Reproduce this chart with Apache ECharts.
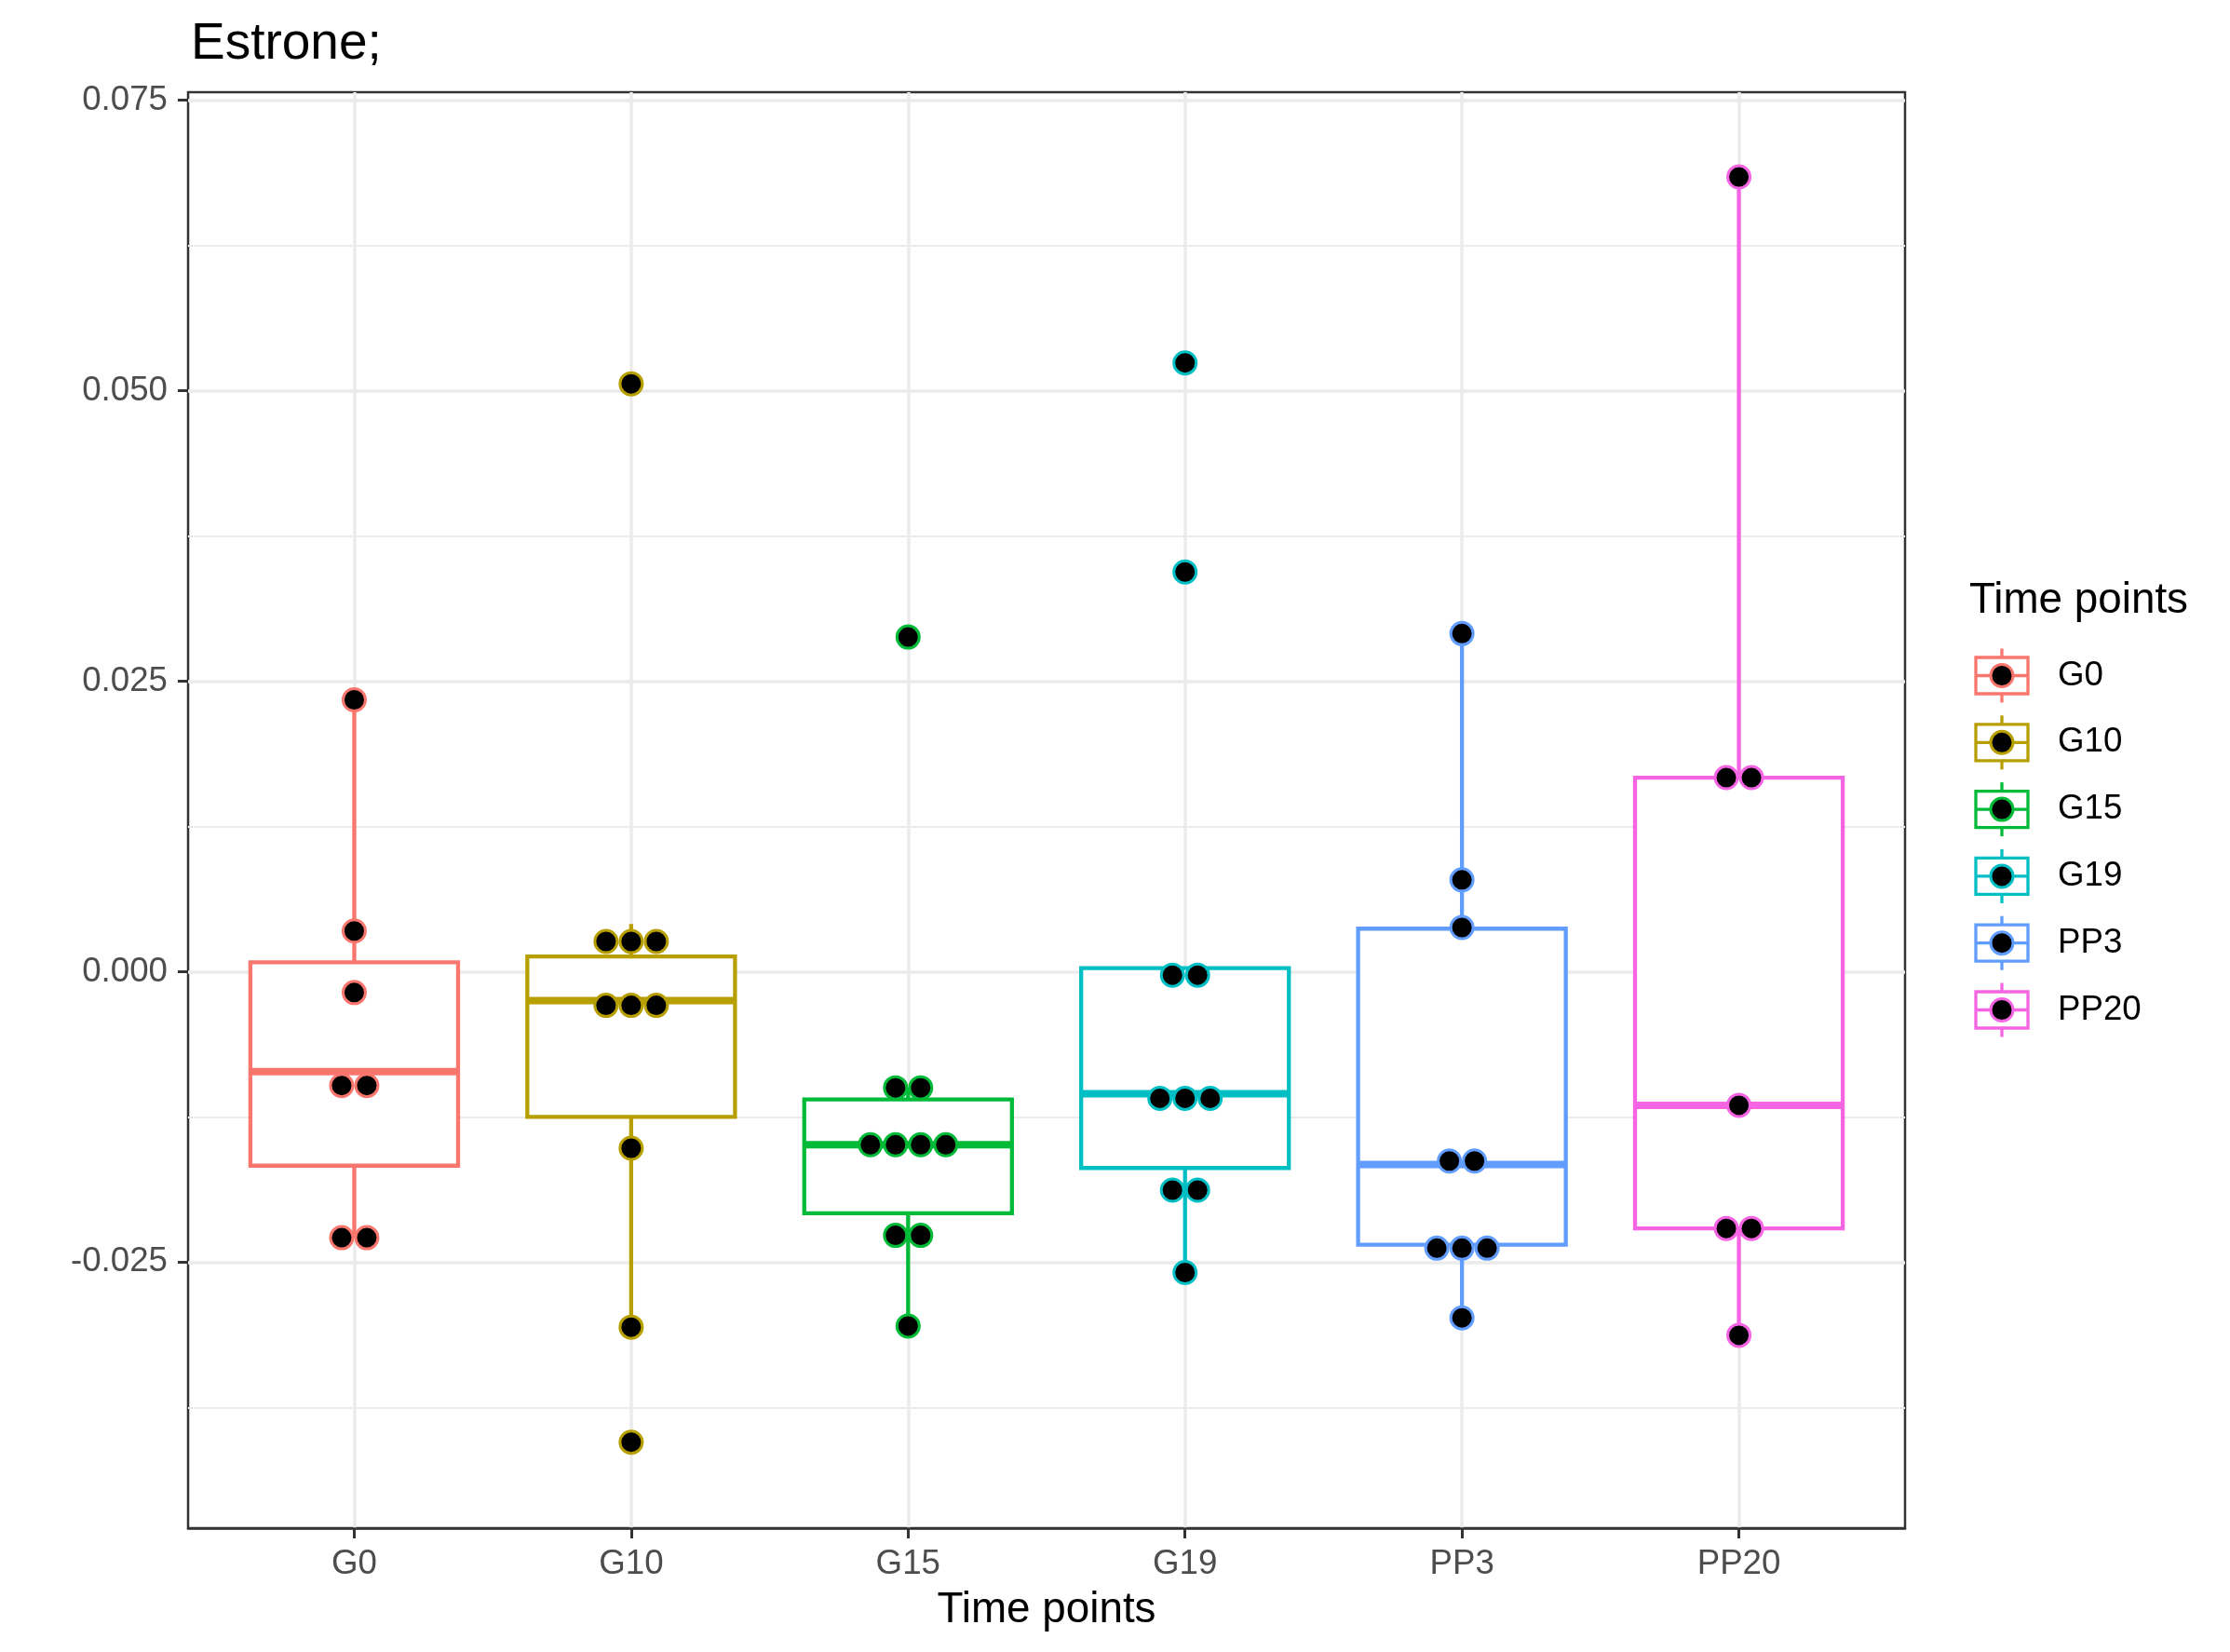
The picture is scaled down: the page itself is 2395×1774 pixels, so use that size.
<!DOCTYPE html>
<html>
<head>
<meta charset="utf-8">
<script src="https://cdn.jsdelivr.net/npm/echarts@6/dist/echarts.min.js"></script>
<style>
html,body{margin:0;padding:0;background:#fff;}
#chart{width:2395px;height:1774px;}
</style>
</head>
<body>
<div id="chart"></div>
<script>
// ---------- data ----------
const categories = ['G0', 'G10', 'G15', 'G19', 'PP3', 'PP20'];
const colors = ['#F8766D', '#B79F00', '#00BA38', '#00BFC4', '#619CFF', '#F564E3'];

// dot plot values (binned dot centres, repeats = stacked dots)
const dotsG0   = [0.0234, 0.0035, -0.0018, -0.0098, -0.0098, -0.0229, -0.0229];
const dotsG10  = [0.0506, 0.0026, 0.0026, 0.0026, -0.0029, -0.0029, -0.0029, -0.0152, -0.0306, -0.0405];
const dotsG15  = [0.0288, -0.0100, -0.0100, -0.0149, -0.0149, -0.0149, -0.0149, -0.0227, -0.0227, -0.0305];
const dotsG19  = [0.0524, 0.0344, -0.0003, -0.0003, -0.0109, -0.0109, -0.0109, -0.0188, -0.0188, -0.0259];
const dotsPP3  = [0.0291, 0.0079, 0.0038, -0.0163, -0.0163, -0.0238, -0.0238, -0.0238, -0.0298];
const dotsPP20 = [0.0684, 0.0167, 0.0167, -0.0115, -0.0221, -0.0221, -0.0313];
const dotGroups = [dotsG0, dotsG10, dotsG15, dotsG19, dotsPP3, dotsPP20];

// boxplot statistics
const whiskerLow  = [-0.0229, -0.0306, -0.0305, -0.0259, -0.0298, -0.0313];
const boxQ1       = [-0.0167, -0.0125, -0.0208, -0.0169, -0.0235, -0.0221];
const boxMedian   = [-0.0086, -0.0025, -0.0149, -0.0105, -0.0166, -0.0115];
const boxQ3       = [ 0.0008,  0.0013, -0.0110,  0.0003,  0.0037,  0.0167];
const whiskerHigh = [ 0.0234,  0.0041, -0.0100,  0.0003,  0.0291,  0.0684];

// axis ticks
const yTicks = [-0.025, 0, 0.025, 0.05, 0.075];
const yMinorTicks = [-0.0375, -0.0125, 0.0125, 0.0375, 0.0625];
const yMin = -0.0479, yMax = 0.0757;
const xMin = -0.6, xMax = 5.6;

// ---------- build ----------
const FONT = '"Liberation Sans", Arial, Helvetica, sans-serif';
const DOT_SPACING = 27;
const xIdx = categories.map((c, i) => i);

const boxData = xIdx.map(i => [i, whiskerLow[i], boxQ1[i], boxMedian[i], boxQ3[i], whiskerHigh[i]]);

function dotItems(vals, i) {
  const counts = new Map();
  vals.forEach(v => counts.set(v, (counts.get(v) || 0) + 1));
  const items = [];
  counts.forEach((n, v) => {
    for (let k = 0; k < n; k++) {
      items.push({ value: [i, v], symbolOffset: [(k - (n - 1) / 2) * DOT_SPACING, 0] });
    }
  });
  return items;
}

const dotSeries = dotGroups.map((vals, i) => ({
  type: 'scatter',
  name: categories[i],
  xAxisIndex: 0, yAxisIndex: 0,
  symbol: 'circle',
  symbolSize: 24,
  z: 10,
  itemStyle: { color: '#000', borderColor: colors[i], borderWidth: 3, opacity: 1 },
  emphasis: { disabled: true },
  data: dotItems(vals, i)
}));

const boxSeries = {
  type: 'custom',
  xAxisIndex: 0, yAxisIndex: 0,
  z: 5,
  data: boxData,
  renderItem: function (params, api) {
    const i = api.value(0);
    const col = colors[params.dataIndex];
    const pLo = api.coord([i, api.value(1)]);
    const pQ1 = api.coord([i, api.value(2)]);
    const pMed = api.coord([i, api.value(3)]);
    const pQ3 = api.coord([i, api.value(4)]);
    const pHi = api.coord([i, api.value(5)]);
    const hw = api.size([0.75, 0])[0] / 2;
    const cx = pMed[0];
    const lw = 4.3;
    return {
      type: 'group',
      children: [
        { type: 'line', shape: { x1: cx, y1: pHi[1], x2: cx, y2: pQ3[1] }, style: { stroke: col, lineWidth: lw } },
        { type: 'line', shape: { x1: cx, y1: pQ1[1], x2: cx, y2: pLo[1] }, style: { stroke: col, lineWidth: lw } },
        { type: 'rect', shape: { x: cx - hw, y: pQ3[1], width: 2 * hw, height: pQ1[1] - pQ3[1] },
          style: { fill: '#fff', stroke: col, lineWidth: lw } },
        { type: 'line', shape: { x1: cx - hw, y1: pMed[1], x2: cx + hw, y2: pMed[1] },
          style: { stroke: col, lineWidth: 8, lineCap: 'butt' } }
      ]
    };
  }
};

// legend (drawn as graphic)
const legendX = 2122, legendY0 = 725.5, legendStep = 71.8;
const legendGraphics = [{
  type: 'text', left: 2115, top: 622,
  style: { text: 'Time points', font: '45.8px ' + FONT, fill: '#000' }
}];
categories.forEach((c, i) => {
  const cy = legendY0 + i * legendStep;
  const cx = legendX + 28;
  legendGraphics.push(
    { type: 'line', shape: { x1: cx, y1: cy - 29, x2: cx, y2: cy + 29 }, style: { stroke: colors[i], lineWidth: 3.3 } },
    { type: 'rect', shape: { x: legendX, y: cy - 19.5, width: 56, height: 39 }, style: { fill: '#fff', stroke: colors[i], lineWidth: 3.3 } },
    { type: 'line', shape: { x1: legendX, y1: cy, x2: legendX + 56, y2: cy }, style: { stroke: colors[i], lineWidth: 3.3 } },
    { type: 'circle', shape: { cx: cx, cy: cy, r: 12 }, style: { fill: '#000', stroke: colors[i], lineWidth: 3 } },
    { type: 'text', x: 2210, y: cy, style: { text: c, font: '36.7px ' + FONT, fill: '#000', verticalAlign: 'middle', align: 'left' } }
  );
});

const chart = echarts.init(document.getElementById('chart'), null, { renderer: 'canvas' });
chart.setOption({
  animation: false,
  backgroundColor: '#fff',
  title: {
    text: 'Estrone;', left: 200, top: 15,
    textStyle: { fontFamily: FONT, fontSize: 55, fontWeight: 'normal', color: '#000' }
  },
  grid: {
    left: 202, top: 99, width: 1844, height: 1542,
    show: true, borderColor: '#333333', borderWidth: 2.5, backgroundColor: '#fff',
    outerBoundsMode: 'none', containLabel: false
  },
  xAxis: [{
    type: 'value', min: xMin, max: xMax,
    name: 'Time points', nameLocation: 'middle', nameGap: 65,
    nameTextStyle: { fontFamily: FONT, fontSize: 45.8, color: '#000' },
    axisLine: { show: true, onZero: false, lineStyle: { color: '#333333', width: 2.5 } },
    axisTick: { show: true, length: 11, customValues: xIdx, lineStyle: { color: '#333333', width: 3 } },
    axisLabel: {
      show: true, customValues: xIdx, margin: 20,
      formatter: v => categories[Math.round(v)],
      fontFamily: FONT, fontSize: 36.7, color: '#4D4D4D'
    },
    splitLine: { show: true, lineStyle: { color: '#EBEBEB', width: 3.5 } }
  }],
  yAxis: [{
    type: 'value', min: yMin, max: yMax,
    axisLine: { show: false, onZero: false },
    axisTick: { show: true, length: 11, customValues: yTicks, lineStyle: { color: '#333333', width: 3 } },
    axisLabel: {
      show: true, customValues: yTicks, margin: 22,
      padding: [9, 0, 0, 0],
      formatter: v => v.toFixed(3),
      fontFamily: FONT, fontSize: 36.7, color: '#4D4D4D'
    },
    splitLine: { show: true, lineStyle: { color: '#EBEBEB', width: 3.5 } }
  }, {
    type: 'value', min: yMin, max: yMax, position: 'left',
    axisLine: { show: false, onZero: false },
    axisTick: { show: false, customValues: yMinorTicks },
    axisLabel: { show: false, customValues: yMinorTicks },
    splitLine: { show: true, lineStyle: { color: '#EBEBEB', width: 1.8 } }
  }],
  series: [boxSeries].concat(dotSeries),
  graphic: legendGraphics
});
</script>
</body>
</html>
